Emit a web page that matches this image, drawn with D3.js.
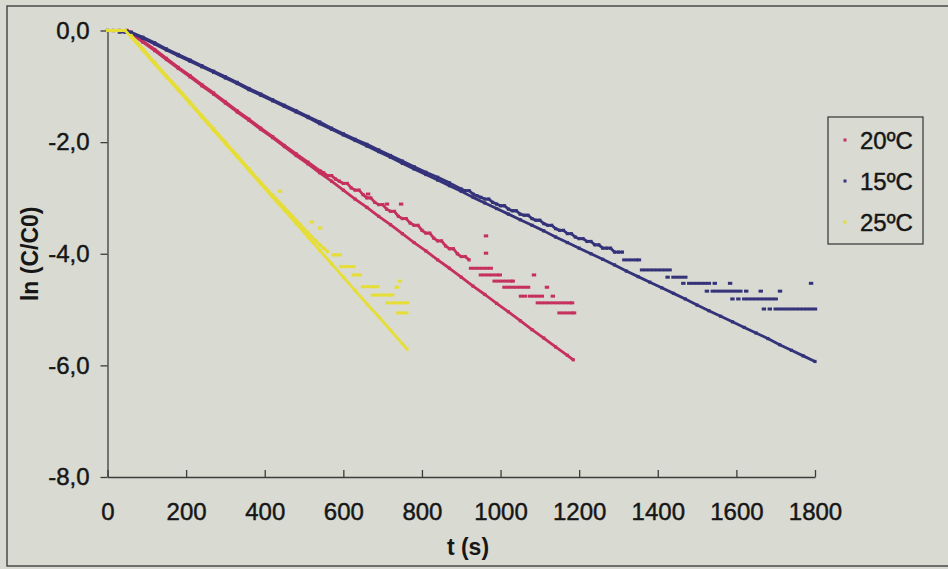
<!DOCTYPE html>
<html>
<head>
<meta charset="utf-8">
<script src="https://cdn.jsdelivr.net/npm/d3@7"></script>
<style>
  body { margin: 0; background: #d9dad2; }
  svg text { font-family: "Liberation Sans", Arial, sans-serif; fill: #161616; }
</style>
</head>
<body>
<svg id="chart" width="948" height="569"></svg>
<script>
// ---------- DATA ----------
const xTickValues = [0, 200, 400, 600, 800, 1000, 1200, 1400, 1600, 1800];
const yTickValues = [0, -2, -4, -6, -8];
const seriesNames = ["20ºC", "15ºC", "25ºC"];

// 20ºC : lower (linear) branch [t, ln(C/C0)]
const red20Line = [[0,0],[15,0],[30,0],[50,0],[60,-0.05],[90,-0.21],[120,-0.36],[150,-0.52],[180,-0.68],[210,-0.83],[240,-0.99],[270,-1.14],[300,-1.30],[330,-1.46],[360,-1.61],[390,-1.77],[420,-1.92],[450,-2.08],[480,-2.24],[510,-2.39],[540,-2.55],[570,-2.70],[600,-2.86],[630,-3.02],[660,-3.17],[690,-3.33],[720,-3.48],[750,-3.64],[780,-3.80],[810,-3.95],[840,-4.11],[870,-4.26],[900,-4.42],[930,-4.58],[960,-4.73],[990,-4.89],[1020,-5.04],[1050,-5.20],[1080,-5.36],[1110,-5.51],[1140,-5.67],[1170,-5.82],[1185,-5.90]];
// 20ºC : upper (measured) branch, continuous part
const red20Upper = [[60,-0.03],[90,-0.19],[120,-0.34],[150,-0.50],[180,-0.66],[210,-0.81],[240,-0.97],[270,-1.12],[300,-1.28],[330,-1.44],[360,-1.59],[390,-1.75],[420,-1.90],[450,-2.06],[480,-2.21],[510,-2.36],[540,-2.51],
  [550,-2.55],[560,-2.60],[570,-2.60],[580,-2.66],[590,-2.70],[600,-2.74],[610,-2.74],[620,-2.82],[630,-2.86],[640,-2.86],[650,-2.94],[660,-3.00],[670,-3.00],[680,-3.08],[690,-3.12],[700,-3.12],[710,-3.20],[720,-3.24],[730,-3.24],[740,-3.33],[750,-3.37],[760,-3.37],[770,-3.45],[780,-3.49],[790,-3.49],[800,-3.58],[810,-3.63],[820,-3.63],[830,-3.72],[840,-3.77],[850,-3.77],[860,-3.86],[870,-3.91],[880,-3.91],[890,-4.00],[900,-4.05],[910,-4.05],[920,-4.11]];
// 20ºC : upper branch, quantised steps and stray points
const red20Steps = [
  [925,-4.26],[935,-4.26],[945,-4.26],[955,-4.26],[965,-4.26],[975,-4.26],
  [950,-4.38],[960,-4.38],[970,-4.38],[980,-4.38],[990,-4.38],[998,-4.38],
  [985,-4.49],[995,-4.49],[1005,-4.49],[1015,-4.49],[1025,-4.49],[1031,-4.49],
  [1010,-4.60],[1020,-4.60],[1030,-4.60],[1040,-4.60],[1050,-4.60],[1060,-4.60],[1070,-4.60],
  [1052,-4.76],[1062,-4.76],[1075,-4.76],[1085,-4.76],[1095,-4.76],[1105,-4.76],
  [1095,-4.88],[1105,-4.88],[1115,-4.88],[1125,-4.88],[1135,-4.88],[1145,-4.88],[1155,-4.88],[1165,-4.88],[1175,-4.88],
  [1150,-5.06],[1160,-5.06],[1170,-5.06],[1180,-5.06],[1187,-5.06],
  [663,-2.93],[711,-3.11],[747,-3.11],[963,-3.68],[963,-3.99],[1085,-4.38],[1118,-4.60],[1133,-4.76],[1182,-4.88]];

// 15ºC : lower (linear) branch
const blue15Line = [[0,0],[15,0],[30,0],[48,0],[60,-0.04],[90,-0.14],[120,-0.24],[150,-0.35],[180,-0.45],[210,-0.55],[240,-0.65],[270,-0.75],[300,-0.85],[330,-0.95],[360,-1.06],[390,-1.16],[420,-1.26],[450,-1.36],[480,-1.46],[510,-1.56],[540,-1.67],[570,-1.77],[600,-1.87],[630,-1.97],[660,-2.07],[690,-2.17],[720,-2.27],[750,-2.38],[780,-2.48],[810,-2.58],[840,-2.68],[870,-2.78],[900,-2.88],[930,-2.99],[960,-3.09],[990,-3.19],[1020,-3.29],[1050,-3.39],[1080,-3.49],[1110,-3.59],[1140,-3.70],[1170,-3.80],[1200,-3.90],[1230,-4.00],[1260,-4.10],[1290,-4.20],[1320,-4.31],[1350,-4.41],[1380,-4.51],[1410,-4.61],[1440,-4.71],[1470,-4.81],[1500,-4.92],[1530,-5.02],[1560,-5.12],[1590,-5.22],[1620,-5.32],[1650,-5.42],[1680,-5.52],[1710,-5.63],[1740,-5.73],[1770,-5.83],[1800,-5.93]];
// 15ºC : upper (measured) branch, continuous part
const blue15Upper = [[30,-0.03],[45,-0.03],[60,-0.03],[90,-0.12],[120,-0.22],[150,-0.33],[180,-0.43],[210,-0.53],[240,-0.63],[270,-0.73],[300,-0.83],[330,-0.93],[360,-1.04],[390,-1.14],[420,-1.24],[450,-1.34],[480,-1.44],[510,-1.54],[540,-1.64],[570,-1.75],[600,-1.85],[630,-1.95],[660,-2.04],[690,-2.14],[720,-2.24],[750,-2.34],[780,-2.44],[810,-2.54],[840,-2.63],[870,-2.73],
  [900,-2.84],[910,-2.87],[920,-2.87],[930,-2.93],[940,-2.96],[950,-2.99],[960,-3.02],[970,-3.02],[980,-3.08],[990,-3.11],[1000,-3.14],[1010,-3.14],[1020,-3.20],[1030,-3.23],[1040,-3.23],[1050,-3.29],[1060,-3.31],[1070,-3.31],[1080,-3.37],[1090,-3.40],[1100,-3.40],[1110,-3.46],[1120,-3.49],[1130,-3.49],[1140,-3.55],[1150,-3.58],[1160,-3.58],[1170,-3.64],[1180,-3.64],[1190,-3.70],[1200,-3.73],[1210,-3.73],[1220,-3.78],[1230,-3.78],[1240,-3.84],[1250,-3.84],[1260,-3.90],[1270,-3.90],[1280,-3.90],[1290,-3.97],[1300,-3.97],[1310,-3.97]];
// 15ºC : upper branch, quantised steps and stray points
const blue15Steps = [
  [1315,-4.11],[1325,-4.11],[1335,-4.11],[1345,-4.11],[1352,-4.11],
  [1360,-4.29],[1370,-4.29],[1380,-4.29],[1390,-4.29],[1400,-4.29],[1410,-4.29],[1420,-4.29],[1430,-4.29],
  [1425,-4.42],[1440,-4.42],[1450,-4.42],[1460,-4.42],[1470,-4.42],
  [1465,-4.53],[1480,-4.53],[1490,-4.53],[1500,-4.53],[1510,-4.53],[1520,-4.53],[1530,-4.53],[1545,-4.53],
  [1525,-4.67],[1540,-4.67],[1550,-4.67],[1560,-4.67],[1570,-4.67],[1580,-4.67],[1590,-4.67],[1600,-4.67],[1610,-4.67],[1625,-4.67],
  [1590,-4.81],[1605,-4.81],[1620,-4.81],[1630,-4.81],[1640,-4.81],[1650,-4.81],[1660,-4.81],[1670,-4.81],[1680,-4.81],[1690,-4.81],[1700,-4.81],
  [1670,-4.99],[1685,-4.99],[1700,-4.99],[1710,-4.99],[1720,-4.99],[1730,-4.99],[1740,-4.99],[1750,-4.99],[1760,-4.99],[1770,-4.99],[1780,-4.99],[1790,-4.99],[1800,-4.99],
  [1584,-4.53],[1790,-4.53],[1662,-4.67],[1711,-4.67]];

// 25ºC : lower (linear) branch
const yellow25Line = [[0,0],[15,0],[30,0],[45,0],[60,-0.12],[90,-0.36],[120,-0.60],[150,-0.84],[180,-1.07],[210,-1.31],[240,-1.55],[270,-1.79],[300,-2.03],[330,-2.27],[360,-2.51],[390,-2.75],[420,-2.99],[450,-3.22],[480,-3.46],[510,-3.70],[540,-3.94],[570,-4.18],[600,-4.42],[630,-4.66],[660,-4.90],[690,-5.13],[720,-5.37],[750,-5.61],[762,-5.71]];
// 25ºC : upper (measured) branch, continuous part
const yellow25Upper = [[60,-0.09],[90,-0.33],[120,-0.57],[150,-0.81],[180,-1.04],[210,-1.28],[240,-1.52],[270,-1.76],[300,-2.00],[330,-2.24],[360,-2.48],[390,-2.72],[420,-2.95],
  [430,-3.02],[440,-3.10],[450,-3.17],[460,-3.25],[470,-3.32],[480,-3.40],[490,-3.47],[500,-3.55],[510,-3.62],[520,-3.70],[530,-3.77],[540,-3.84],[550,-3.90],[560,-3.96]];
// 25ºC : upper branch, quantised steps and stray points
const yellow25Steps = [
  [575,-4.02],[583,-4.02],[591,-4.02],
  [595,-4.23],[605,-4.23],[615,-4.23],[625,-4.23],
  [627,-4.38],[635,-4.38],[642,-4.38],
  [650,-4.59],[660,-4.59],[670,-4.59],[680,-4.59],[686,-4.59],
  [675,-4.74],[685,-4.74],[695,-4.74],[705,-4.74],[715,-4.74],[724,-4.74],
  [712,-4.88],[722,-4.88],[732,-4.88],[742,-4.88],[752,-4.88],[762,-4.88],
  [740,-5.06],[750,-5.06],[760,-5.06],
  [439,-2.88],[520,-3.43],[541,-3.54],[744,-4.49],[736,-4.60]];

// ---------- STYLE ----------
const colors = { red: "#c5305c", blue: "#34337a", yellow: "#e6de38" };
const series = [
  { name: seriesNames[0], color: colors.red, line: red20Line, upper: red20Upper, steps: red20Steps },
  { name: seriesNames[1], color: colors.blue, line: blue15Line, upper: blue15Upper, steps: blue15Steps },
  { name: seriesNames[2], color: colors.yellow, line: yellow25Line, upper: yellow25Upper, steps: yellow25Steps }
];

const svg = d3.select("#chart");

// outer frame
svg.append("rect").attr("x", 7).attr("y", 6).attr("width", 950).attr("height", 560)
  .attr("fill", "#d9dad2").attr("stroke", "#4a4a4a").attr("stroke-width", 1.5);

const x = d3.scaleLinear().domain([0, 1800]).range([107.5, 815]);
const y = d3.scaleLinear().domain([-8, 0]).range([477, 30.5]);
const fmt = d => d3.format(".1f")(d).replace("−", "-").replace(".", ",");

// x axis (ticks pointing up into the plot)
const xAxis = svg.append("g").attr("transform", `translate(0,${y(-8)})`)
  .call(d3.axisBottom(x).tickValues(xTickValues).tickSizeInner(-7).tickSizeOuter(0).tickFormat(d3.format("d")));
xAxis.selectAll("text").attr("y", 26).attr("dy", "0.71em");

// y axis (ticks pointing out)
const yAxis = svg.append("g").attr("transform", `translate(${x(0)},0)`)
  .call(d3.axisLeft(y).tickValues(yTickValues).tickSizeInner(7).tickSizeOuter(0).tickPadding(11).tickFormat(fmt));

svg.selectAll(".tick text").style("font-size", "24px")
  .style("stroke", "#161616").style("stroke-width", "0.45px").attr("fill", "#161616");
svg.selectAll(".domain, .tick line").attr("stroke", "#3c3c3c").attr("stroke-width", 1.3);

// axis titles
svg.append("text").attr("x", 468).attr("y", 555).attr("text-anchor", "middle")
  .style("font-size", "23px").style("font-weight", "bold").text("t (s)");
svg.append("text").attr("transform", `translate(38,${(y(0) + y(-8)) / 2}) rotate(-90)`)
  .attr("text-anchor", "middle").style("font-size", "23px").style("font-weight", "bold").text("ln (C/C0)");

// series
const lineGen = d3.line().x(d => x(d[0])).y(d => y(d[1]));
series.forEach(s => {
  const g = svg.append("g");
  [s.line, s.upper].forEach(branch => {
    g.append("path").datum(branch).attr("d", lineGen).attr("fill", "none")
      .attr("stroke", s.color).attr("stroke-width", 2.8).attr("stroke-linejoin", "round");
    g.selectAll(null).data(branch).enter().append("rect")
      .attr("x", d => x(d[0]) - 1.6).attr("y", d => y(d[1]) - 1.6)
      .attr("width", 3.2).attr("height", 3.2).attr("fill", s.color);
  });
  g.selectAll(null).data(s.steps).enter().append("rect")
    .attr("x", d => x(d[0]) - 2.2).attr("y", d => y(d[1]) - 1.5)
    .attr("width", 4.4).attr("height", 3).attr("fill", s.color);
});

// legend
const lg = svg.append("g");
lg.append("rect").attr("x", 828).attr("y", 117).attr("width", 95).attr("height", 127)
  .attr("fill", "none").attr("stroke", "#333").attr("stroke-width", 1.2);
series.forEach((s, i) => {
  const cy = 140 + i * 41;
  lg.append("rect").attr("x", 843.5).attr("y", cy - 1.5).attr("width", 3).attr("height", 3).attr("fill", s.color);
  lg.append("text").attr("x", 860).attr("y", cy).attr("dy", "0.36em")
    .style("font-size", "24px").style("stroke", "#161616").style("stroke-width", "0.45px").text(s.name);
});
</script>
</body>
</html>
